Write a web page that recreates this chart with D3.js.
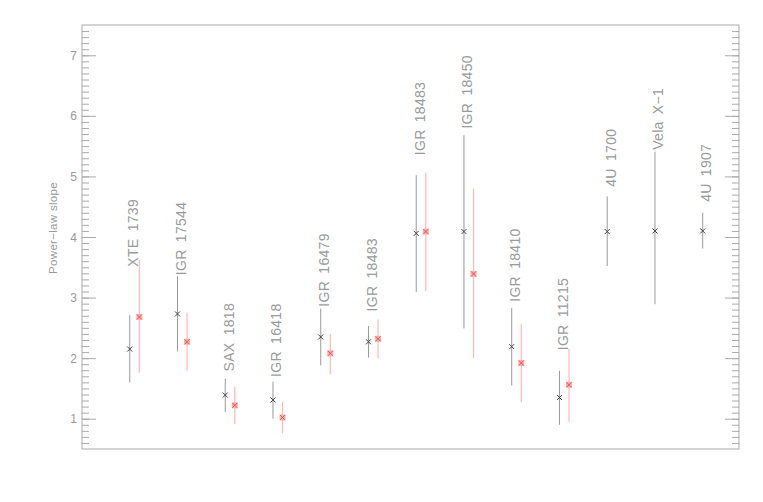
<!DOCTYPE html>
<html>
<head>
<meta charset="utf-8">
<script src="https://cdn.jsdelivr.net/npm/d3@7"></script>
<style>
  body { margin: 0; background: #fff; }
  svg text { font-family: "Liberation Sans", Arial, sans-serif; fill: #9a9a9a; }
</style>
</head>
<body>
<div id="chart"></div>
<script>
// Source names, in plot order
var sources = ["XTE 1739", "IGR 17544", "SAX 1818", "IGR 16418", "IGR 16479", "IGR 18483",
               "IGR 18483", "IGR 18450", "IGR 18410", "IGR 11215", "4U 1700", "Vela X\u22121", "4U 1907"];

// Black points: slope with lower / upper limits
var slopeA = [2.15, 2.73, 1.39, 1.31, 2.35, 2.27, 4.06, 4.09, 2.19, 1.35, 4.09, 4.10, 4.10];
var upperA = [2.71, 3.35, 1.66, 1.61, 2.82, 2.53, 5.02, 5.68, 2.83, 1.79, 4.67, 5.41, 4.40];
var lowerA = [1.60, 2.11, 1.11, 1.00, 1.88, 2.01, 3.09, 2.49, 1.55, 0.90, 3.52, 2.89, 3.81];

// Red points (only the first ten sources)
var slopeB = [2.68, 2.27, 1.22, 1.02, 2.08, 2.32, 4.09, 3.39, 1.92, 1.56];
var upperB = [3.62, 2.75, 1.53, 1.28, 2.40, 2.64, 5.06, 4.80, 2.56, 2.15];
var lowerB = [1.76, 1.79, 0.91, 0.76, 1.74, 2.00, 3.11, 2.00, 1.27, 0.95];

// Where each name label starts (slope units)
var labelAt = [3.51, 3.37, 1.78, 1.69, 2.85, 2.77, 5.35, 5.79, 2.93, 2.13, 4.83, 5.44, 4.58];

var yTicks = [1, 2, 3, 4, 5, 6, 7];

var width = 763, height = 502;
var plotL = 82, plotR = 739, plotT = 25, plotB = 449;

var svg = d3.select("#chart").append("svg")
    .attr("width", width)
    .attr("height", height);

var x = d3.scaleLinear().domain([0, 13.76]).range([plotL, plotR]);
var y = d3.scaleLinear().domain([0.5, 7.5]).range([plotB, plotT]);

var axisColor = "#aaa";

// frame
svg.append("rect")
    .attr("x", plotL).attr("y", plotT)
    .attr("width", plotR - plotL).attr("height", plotB - plotT)
    .attr("fill", "none")
    .attr("stroke", axisColor)
    .attr("stroke-width", 1);

// left/right axes with minor ticks
var minor = d3.range(6, 75).map(function(d) { return d / 10; });
var gl = svg.append("g").attr("transform", "translate(" + plotL + ",0)")
    .call(d3.axisRight(y).tickValues(minor).tickSize(7).tickFormat(""));
var gl2 = svg.append("g").attr("transform", "translate(" + plotL + ",0)")
    .call(d3.axisRight(y).tickValues(yTicks).tickSize(14).tickFormat(""));
var gr = svg.append("g").attr("transform", "translate(" + plotR + ",0)")
    .call(d3.axisLeft(y).tickValues(minor).tickSize(7).tickFormat(""));
var gr2 = svg.append("g").attr("transform", "translate(" + plotR + ",0)")
    .call(d3.axisLeft(y).tickValues(yTicks).tickSize(14).tickFormat(""));
[gl, gl2, gr, gr2].forEach(function(g) {
    g.select(".domain").remove();
    g.selectAll("line").attr("stroke", axisColor);
});

// y tick labels
svg.selectAll(".ylab")
    .data(yTicks)
    .enter()
    .append("text")
    .attr("class", "ylab")
    .attr("x", 77)
    .attr("y", function(d) { return y(d) + 4.5; })
    .attr("text-anchor", "end")
    .style("font-size", "12px")
    .text(function(d) { return d; });

// y axis title
svg.append("text")
    .attr("transform", "translate(57," + ((plotT + plotB) / 2 - 9) + ") rotate(-90)")
    .attr("text-anchor", "middle")
    .style("font-size", "11.5px")
    .style("letter-spacing", "0.3px")
    .text("Power\u2212law slope");

var idx = d3.range(sources.length);

// black error bars
svg.selectAll(".barA")
    .data(idx)
    .enter()
    .append("line")
    .attr("x1", function(i) { return x(i + 1); })
    .attr("x2", function(i) { return x(i + 1); })
    .attr("y1", function(i) { return y(lowerA[i]); })
    .attr("y2", function(i) { return y(upperA[i]); })
    .attr("stroke", "#999")
    .attr("stroke-width", 1);

// red error bars
svg.selectAll(".barB")
    .data(d3.range(slopeB.length))
    .enter()
    .append("line")
    .attr("x1", function(i) { return x(i + 1.2); })
    .attr("x2", function(i) { return x(i + 1.2); })
    .attr("y1", function(i) { return y(lowerB[i]); })
    .attr("y2", function(i) { return y(upperB[i]); })
    .attr("stroke", "#ffb8b8")
    .attr("stroke-width", 1.2);

// black markers (x)
var mA = svg.selectAll(".mA")
    .data(idx)
    .enter()
    .append("g")
    .attr("transform", function(i) { return "translate(" + x(i + 1) + "," + y(slopeA[i]) + ")"; });
mA.append("path")
    .attr("d", "M-2.5,-2.5L2.5,2.5M-2.5,2.5L2.5,-2.5")
    .attr("stroke", "#444")
    .attr("stroke-width", 1);

// red markers (boxed x)
var mB = svg.selectAll(".mB")
    .data(d3.range(slopeB.length))
    .enter()
    .append("g")
    .attr("transform", function(i) { return "translate(" + x(i + 1.2) + "," + y(slopeB[i]) + ")"; });
mB.append("rect")
    .attr("x", -3).attr("y", -3).attr("width", 6).attr("height", 6)
    .attr("fill", "#ffb0b0");
mB.append("path")
    .attr("d", "M-2.5,-2.5L2.5,2.5M-2.5,2.5L2.5,-2.5")
    .attr("stroke", "#f05050")
    .attr("stroke-width", 1);

// source labels, rotated
svg.selectAll(".name")
    .data(idx)
    .enter()
    .append("text")
    .attr("class", "name")
    .attr("transform", function(i) {
        return "translate(" + (x(i + 1) + 8.5) + "," + y(labelAt[i]) + ") rotate(-90)";
    })
    .style("font-size", "14px")
    .style("letter-spacing", "0.3px")
    .style("word-spacing", "3px")
    .text(function(i) { return sources[i]; });
</script>
</body>
</html>
